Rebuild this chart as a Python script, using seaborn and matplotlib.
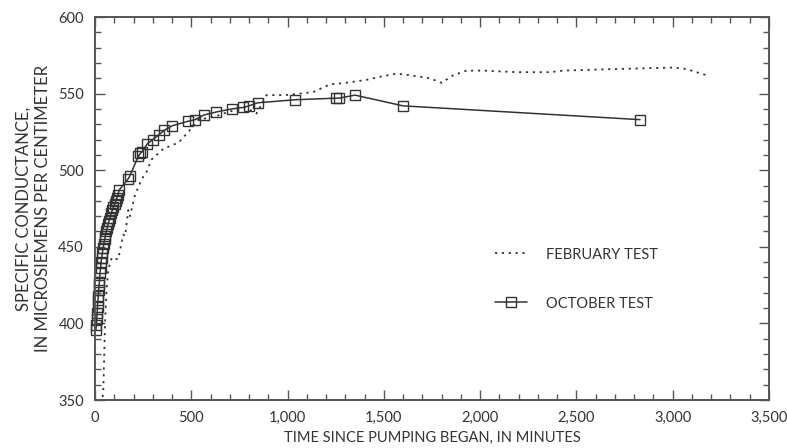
import matplotlib
matplotlib.use("Agg")
import matplotlib.pyplot as plt
from matplotlib.ticker import MultipleLocator, FuncFormatter
import numpy as np
import pandas as pd
import seaborn as sns

# February test: specific conductance (uS/cm) against minutes since pumping began
feb_minutes = [40, 43, 48, 52, 56, 60, 69, 87, 105, 121, 130, 147, 156, 173, 182,
               208, 242, 268, 294, 355, 433, 485, 537, 623, 692, 779, 839, 891,
               986, 1064, 1133, 1185, 1220, 1300, 1411, 1480, 1566, 1636, 1739,
               1800, 1860, 1930, 2016, 2189, 2259, 2362, 2431, 2691, 3003, 3072,
               3175]
feb_conductance = [352, 356, 380, 400, 411, 422, 435, 443, 442, 442, 448, 458,
                   457, 474, 470, 484, 494, 499, 507, 514, 518, 525, 533, 535,
                   538, 541, 537, 549, 549, 550, 551, 554, 556, 557, 559, 561,
                   563, 562, 560, 557, 562, 565, 565, 564, 564, 564, 565, 566,
                   567, 566, 562]

# October test
oct_minutes = [5, 7, 9, 11, 13, 15, 17, 19, 21, 23, 26, 29, 32, 35, 38, 42, 46,
               50, 54, 58, 63, 68, 73, 78, 84, 90, 96, 102, 108, 114, 120, 125,
               170, 180, 225, 235, 245, 270, 300, 330, 360, 400, 485, 520, 565,
               630, 710, 770, 800, 845, 1040, 1250, 1265, 1350, 1600, 2830]
oct_conductance = [396, 399, 403, 407, 411, 415, 418, 422, 425, 427, 433, 436,
                   440, 443, 446, 449, 452, 455, 457, 460, 462, 465, 467, 469,
                   472, 474, 476, 478, 480, 482, 484, 487, 494, 496, 509, 511,
                   512, 517, 520, 523, 526, 529, 532, 533, 536, 538, 540, 541,
                   542, 544, 546, 547, 547, 549, 542, 533]

x_ticks = [0, 500, 1000, 1500, 2000, 2500, 3000, 3500]
y_ticks = [350, 400, 450, 500, 550, 600]

feb = pd.DataFrame({"minutes": feb_minutes, "conductance": feb_conductance})
octo = pd.DataFrame({"minutes": oct_minutes, "conductance": oct_conductance})

sns.set_theme(style="ticks")
plt.rcParams["font.family"] = ["Lato", "DejaVu Sans"]
ink = "#333333"
plt.rcParams.update({
    "text.color": ink, "axes.labelcolor": ink,
    "xtick.color": "#555555", "ytick.color": "#555555",
    "xtick.labelcolor": ink, "ytick.labelcolor": ink,
})

fig = plt.figure(figsize=(7.87, 4.48), dpi=100)
ax = fig.add_axes([95 / 787, 1 - 400 / 448, 674 / 787, 383 / 448])

sns.lineplot(data=feb, x="minutes", y="conductance", ax=ax, estimator=None,
             sort=False, color=ink, linewidth=1.3, linestyle=(0, (1.2, 2.6)),
             label="FEBRUARY TEST")
sns.lineplot(data=octo, x="minutes", y="conductance", ax=ax, estimator=None,
             sort=False, color=ink, linewidth=1.1, marker="s", markersize=7.5,
             markerfacecolor="none", markeredgecolor=ink, markeredgewidth=1.0,
             label="OCTOBER TEST", clip_on=False)

ax.set_xlim(0, 3500)
ax.set_ylim(350, 600)
ax.set_xticks(x_ticks)
ax.set_yticks(y_ticks)
ax.xaxis.set_minor_locator(MultipleLocator(100))
ax.yaxis.set_minor_locator(MultipleLocator(10))
ax.xaxis.set_major_formatter(FuncFormatter(lambda v, p: f"{int(v):,}"))
ax.tick_params(which="both", direction="in", top=True, right=True,
               labelsize=10.5, width=1.0)
ax.tick_params(which="major", length=7, pad=8)
ax.tick_params(which="minor", length=4.5)
for s in ax.spines.values():
    s.set_linewidth(1.4)
    s.set_color("#555555")

ax.set_xlabel("TIME SINCE PUMPING BEGAN, IN MINUTES", fontsize=10.5, labelpad=4)
ax.set_ylabel("SPECIFIC CONDUCTANCE,\nIN MICROSIEMENS PER CENTIMETER",
              fontsize=12, labelpad=5, linespacing=1.3)

ax.legend(loc="upper left", bbox_to_anchor=(0.593, 0.398), frameon=False,
          fontsize=10.5, handlelength=2.2, handletextpad=1.3, labelspacing=2.4,
          borderpad=0, borderaxespad=0)

fig.savefig("out.png", dpi=100)
